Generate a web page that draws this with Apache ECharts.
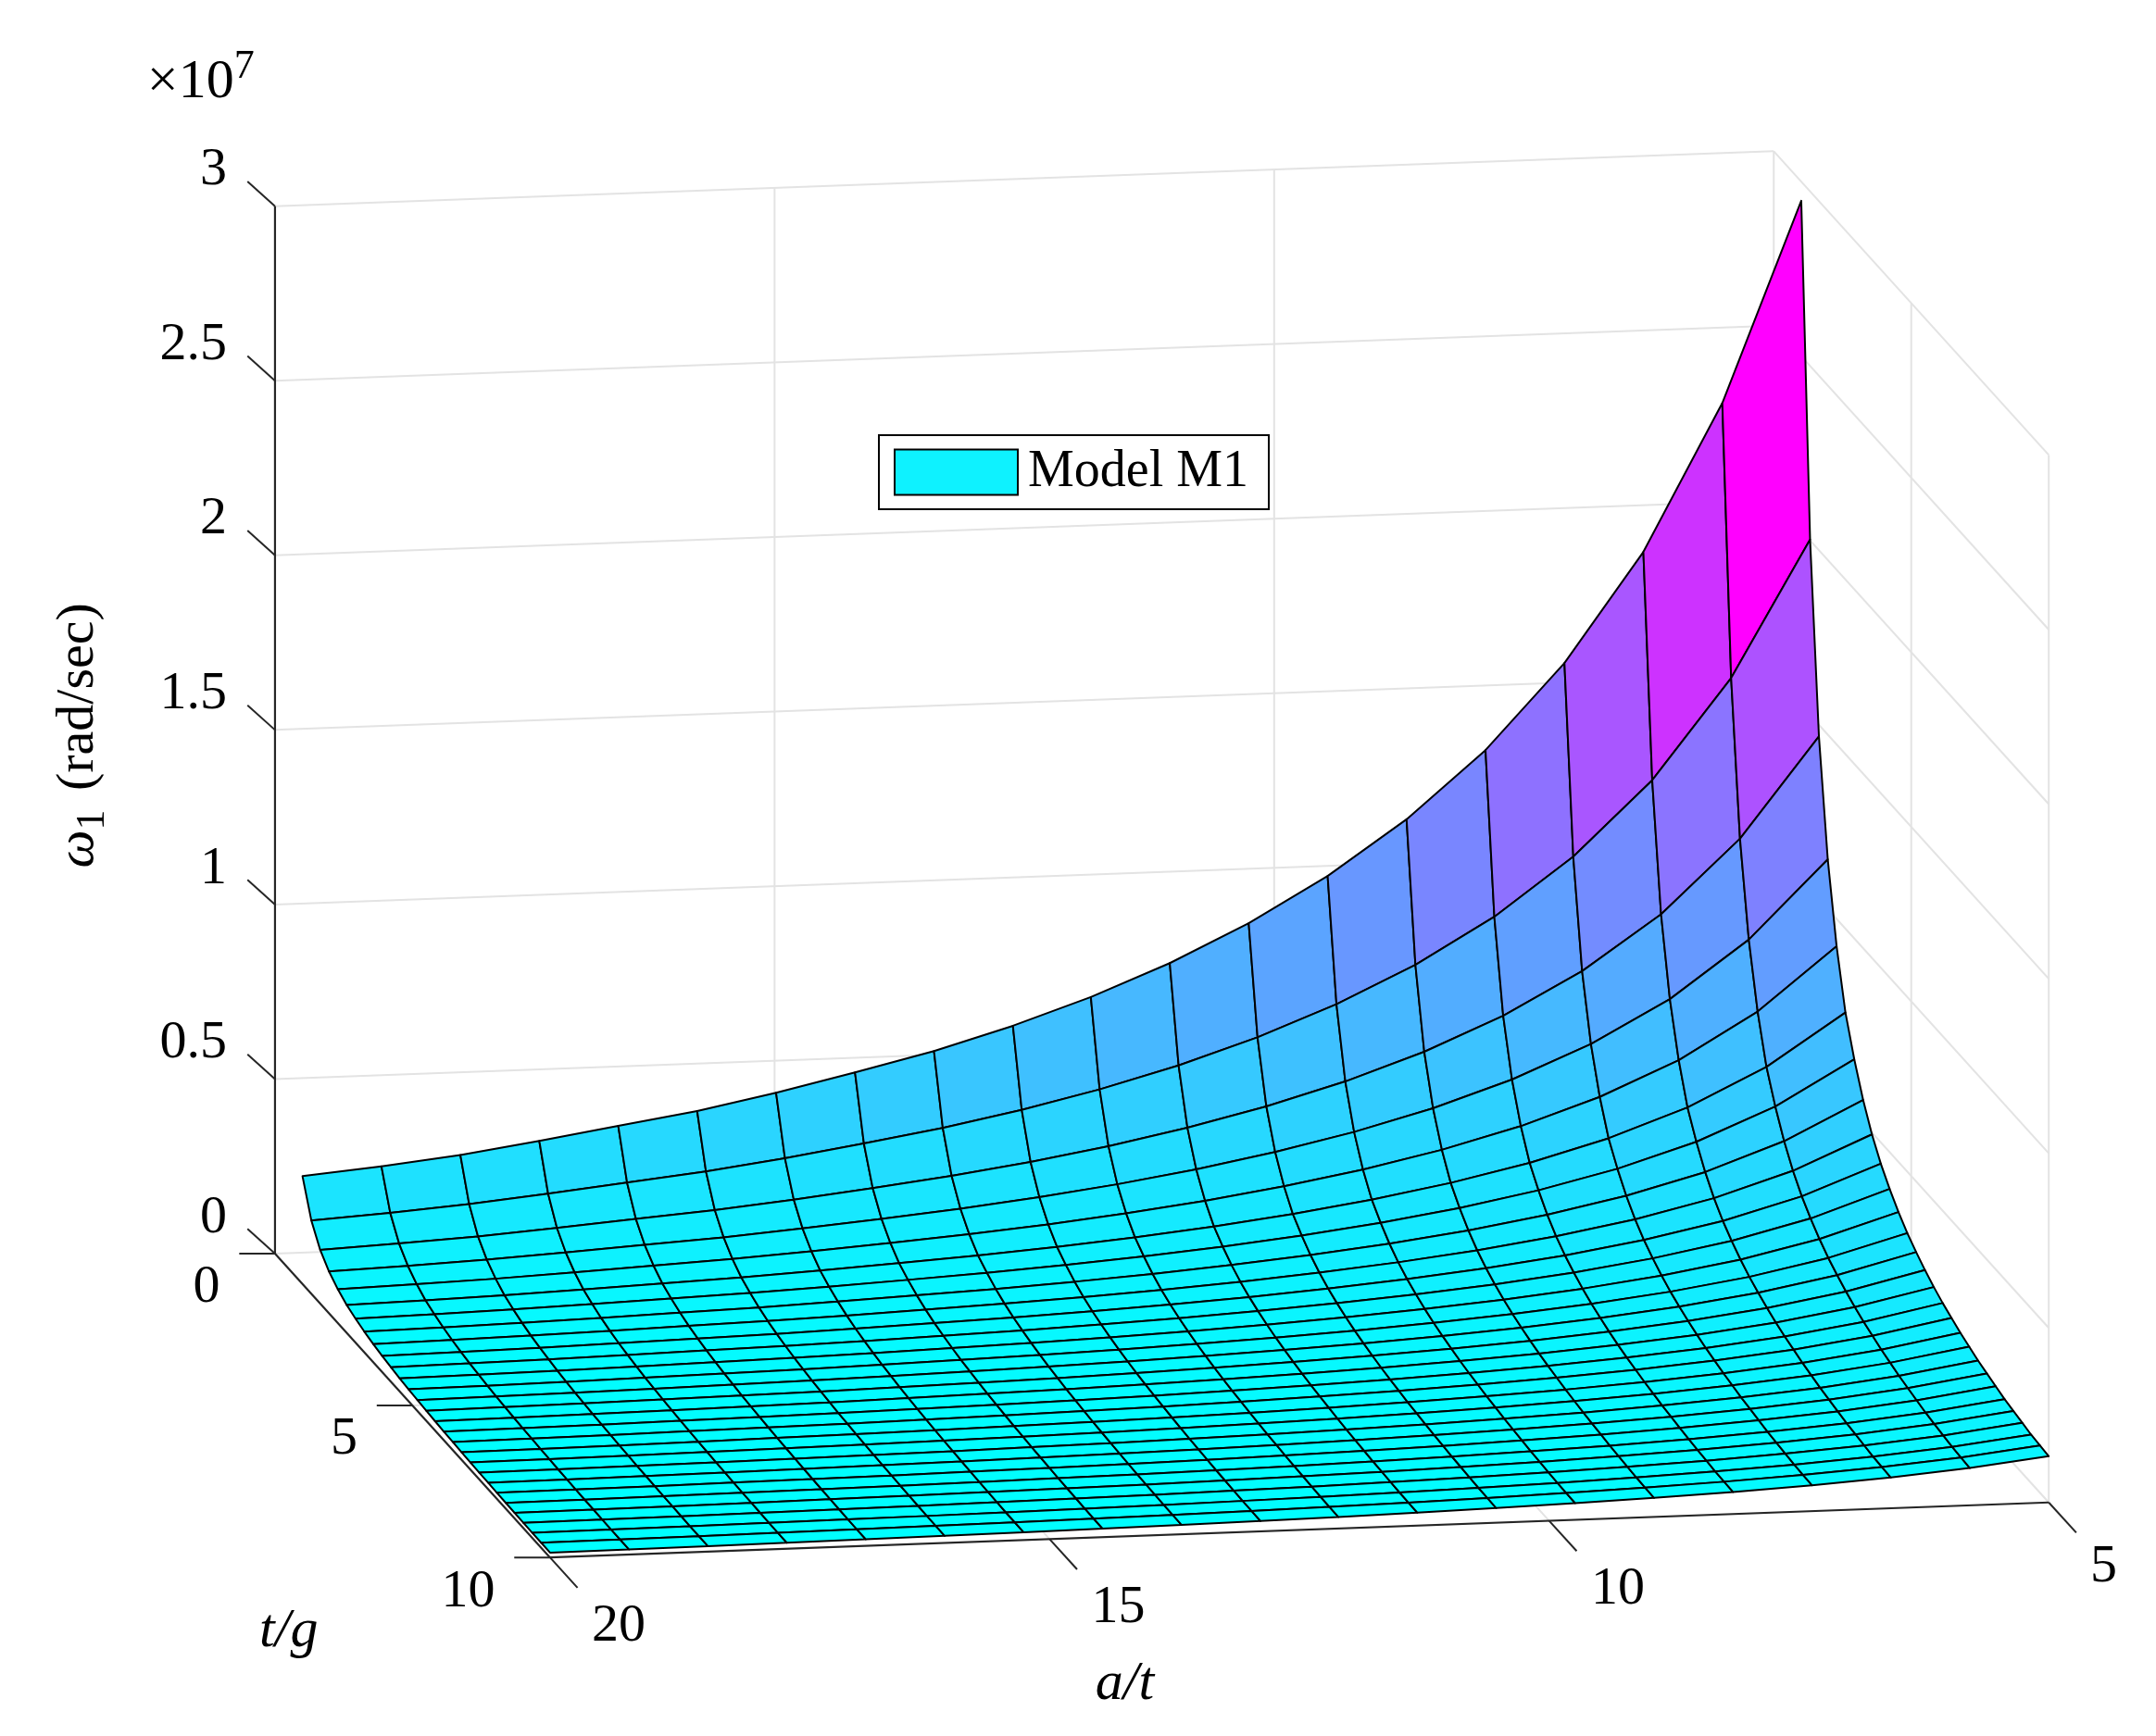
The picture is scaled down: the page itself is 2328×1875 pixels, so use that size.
<!DOCTYPE html>
<html>
<head>
<meta charset="utf-8">
<script src="https://cdn.jsdelivr.net/npm/echarts@6/dist/echarts.min.js"></script>
<style>
html, body { margin: 0; padding: 0; background: #fff; }
#main { width: 2328px; height: 1875px; }
</style>
</head>
<body>
<div id="main"></div>
<script>
// a/t columns (20 -> 5) and t/g rows (1 -> 10)
var aT = [20, 19.21, 18.42, 17.63, 16.84, 16.05, 15.26, 14.47, 13.68, 12.89,
          12.11, 11.32, 10.53, 9.74, 8.95, 8.16, 7.37, 6.58, 5.79, 5];
var tG = [1, 1.321, 1.643, 1.964, 2.286, 2.607, 2.929, 3.25, 3.571, 3.893,
          4.214, 4.536, 4.857, 5.179, 5.5, 5.821, 6.143, 6.464, 6.786, 7.107,
          7.429, 7.75, 8.071, 8.393, 8.714, 9.036, 9.357, 9.679, 10];
// omega_1 (x1e7) along back edge t/g = 1, read per column
var backEdge = [0.309, 0.329, 0.353, 0.385, 0.420, 0.454, 0.498, 0.548, 0.601, 0.665,
                0.739, 0.828, 0.934, 1.061, 1.215, 1.405, 1.646, 1.956, 2.374, 2.945];
// relative fall-off along t/g, read on the a/t = 5 edge
var rowRatio = [1, 0.68, 0.498, 0.388, 0.313, 0.258, 0.222, 0.192, 0.168, 0.149,
                0.134, 0.121, 0.110, 0.101, 0.093, 0.086, 0.080, 0.075, 0.070, 0.066,
                0.062, 0.059, 0.056, 0.053, 0.051, 0.049, 0.047, 0.046, 0.045];
var zTicks = [0, 0.5, 1, 1.5, 2, 2.5, 3];
var tTicks = [0, 5, 10];
var aTicks = [20, 15, 10, 5];

var S = 2328 / 1568;
var W = 1568, H = 1875 / S;
var FONT = 'Liberation Serif';
var zMin = 1e9, zMax = -1e9;
var Z = tG.map(function (t, j) {
    return aT.map(function (a, k) {
        var v = backEdge[k] * rowRatio[j];
        zMin = Math.min(zMin, v); zMax = Math.max(zMax, v);
        return v;
    });
});

// orthographic view in display units
function proj(a, t, z) {
    var u = (20 - a) / 15;
    return [200 + 1090 * u + 20 * t, 912 - 40 * u + 22.1 * t - 254 * z];
}

function coolColor(v) {
    var f = (v - zMin) / (zMax - zMin);
    f = Math.max(0, Math.min(1, f));
    return 'rgb(' + Math.round(255 * f) + ',' + Math.round(255 * (1 - f)) + ',255)';
}

var cells = [];
for (var j = 0; j < tG.length - 1; j++) {
    for (var k = 0; k < aT.length - 1; k++) cells.push([k, j]);
}

function line(api, p1, p2, color, w) {
    return {
        type: 'line',
        shape: { x1: api.coord(p1)[0], y1: api.coord(p1)[1], x2: api.coord(p2)[0], y2: api.coord(p2)[1] },
        style: { stroke: color, lineWidth: w }
    };
}
function label(api, p, dx, dy, text, align, extra) {
    var c = api.coord([p[0] + dx, p[1] + dy]);
    var st = { text: text, x: c[0], y: c[1], fill: '#000', font: '58px "' + FONT + '"', align: align, verticalAlign: 'middle' };
    if (extra) for (var key in extra) st[key] = extra[key];
    return { type: 'text', style: st };
}

function renderFrame(params, api) {
    var g = [], grid = '#e3e3e3', axis = '#262626';
    // back wall (t/g = 0)
    zTicks.forEach(function (z) {
        g.push(line(api, proj(20, 0, z), proj(5, 0, z), grid, 2));
        g.push(line(api, proj(5, 0, z), proj(5, 10, z), grid, 2));
    });
    [15, 10, 5].forEach(function (a) {
        g.push(line(api, proj(a, 0, 0), proj(a, 0, 3), grid, 2));
    });
    [5, 10].forEach(function (t) {
        g.push(line(api, proj(5, t, 0), proj(5, t, 3), grid, 2));
    });
    // floor grid
    [15, 10].forEach(function (a) { g.push(line(api, proj(a, 0, 0), proj(a, 10, 0), grid, 2)); });
    g.push(line(api, proj(20, 5, 0), proj(5, 5, 0), grid, 2));
    // axes
    g.push(line(api, proj(20, 0, 0), proj(20, 0, 3), axis, 2.2));
    g.push(line(api, proj(20, 0, 0), proj(20, 10, 0), axis, 2.2));
    g.push(line(api, proj(20, 10, 0), proj(5, 10, 0), axis, 2.2));
    zTicks.forEach(function (z) {
        var p = proj(20, 0, z);
        g.push(line(api, p, [p[0] - 20, p[1] - 18], axis, 2));
        g.push(label(api, p, -35, -26, String(z), 'right'));
    });
    tTicks.forEach(function (t) {
        var p = proj(20, t, 0);
        g.push(line(api, p, [p[0] - 26, p[1]], axis, 2));
        g.push(label(api, p, -40, 25, String(t), 'right'));
    });
    aTicks.forEach(function (a) {
        var p = proj(a, 10, 0);
        g.push(line(api, p, [p[0] + 20, p[1] + 22], axis, 2));
        g.push(label(api, p, a === 5 ? 40 : 50, a === 5 ? 47 : 50, String(a), 'center'));
    });
    // axis titles
    g.push(label(api, [210, 1187], 0, 0, 't/g', 'center', { font: 'italic 60px "' + FONT + '"' }));
    g.push(label(api, [818, 1225], 0, 0, 'a/t', 'center', { font: 'italic 60px "' + FONT + '"' }));
    var zc = api.coord([57, 535]);
    g.push({
        type: 'text', x: zc[0], y: zc[1], rotation: Math.PI / 2,
        style: {
            text: '{w|ω}{s|1} (rad/sec)', x: 0, y: 0, align: 'center', verticalAlign: 'middle',
            fill: '#000', font: '58px "' + FONT + '"',
            rich: {
                w: { fontFamily: FONT, fontSize: 58, fontStyle: 'italic' },
                s: { fontFamily: FONT, fontSize: 44, padding: [32, 6, 0, 0] }
            }
        }
    });
    var xc = api.coord([146, 60]);
    g.push({
        type: 'text',
        style: {
            text: '×10{s|7}', x: xc[0], y: xc[1], align: 'center', verticalAlign: 'middle',
            fill: '#000', font: '60px "' + FONT + '"',
            rich: { s: { fontFamily: FONT, fontSize: 44, padding: [0, 0, 34, 0] } }
        }
    });
    return { type: 'group', children: g };
}

function renderCell(params, api) {
    var k = api.value(0), j = api.value(1);
    var corners = [[k, j], [k + 1, j], [k + 1, j + 1], [k, j + 1]];
    var pts = corners.map(function (c) {
        return api.coord(proj(aT[c[0]], tG[c[1]], Z[c[1]][c[0]]));
    });
    return {
        type: 'polygon',
        shape: { points: pts },
        style: { fill: coolColor(Z[j][k + 1]), stroke: '#000', lineWidth: 2, lineJoin: 'round' }
    };
}

var chart = echarts.init(document.getElementById('main'));
chart.setOption({
    backgroundColor: '#fff',
    animation: false,
    grid: { left: 0, right: 0, top: 0, bottom: 0 },
    xAxis: { type: 'value', min: 0, max: W, show: false },
    yAxis: { type: 'value', min: 0, max: H, inverse: true, show: false },
    legend: {
        data: ['Model M1'],
        left: 949, top: 470,
        padding: [12, 22, 12, 16],
        itemWidth: 133, itemHeight: 49, itemGap: 10,
        borderColor: '#000', borderWidth: 2, backgroundColor: '#fff',
        icon: 'rect',
        textStyle: { fontFamily: FONT, fontSize: 56, color: '#000', padding: [0, 0, 0, 6] }
    },
    series: [
        {
            type: 'custom', name: 'frame', silent: true, clip: false, z: 1,
            data: [[0, 0]], renderItem: renderFrame
        },
        {
            type: 'custom', name: 'Model M1', silent: true, clip: false, z: 2,
            itemStyle: { color: '#0ef2ff', borderColor: '#000', borderWidth: 2 },
            data: cells, renderItem: renderCell
        }
    ]
});
</script>
</body>
</html>
